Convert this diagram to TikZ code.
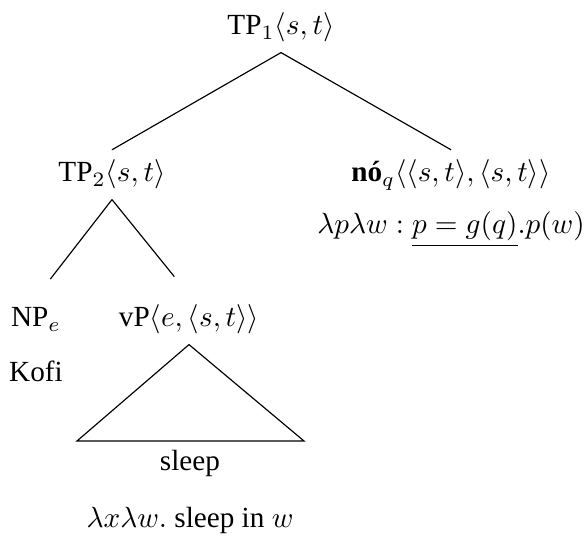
\documentclass[tikz,border=0pt]{standalone}
\usepackage{fontspec}
\setmainfont{Liberation Serif}
\usetikzlibrary{positioning}

\begin{document}
\begin{tikzpicture}[x=0.3424pt,y=-0.3424pt,
  lab/.style={anchor=base,inner sep=3.33pt}]

\useasboundingbox (0,0) rectangle (585,536);

%====================================================
% Top : TP1 and its daughters
%====================================================
\node[lab] (tpone) at (281,35) {$\mathrm{TP}_1\langle s,t\rangle$};
\node[lab] (tptwo) at (112,182) {$\mathrm{TP}_2\langle s,t\rangle$};
\node[lab] (no) at (451,182) {\textbf{nó}$_q\langle\langle s,t\rangle,\langle s,t\rangle\rangle$};
\node[lab] (noden) at (451,234) {$\lambda p\lambda w:\underline{p=g(q)}.p(w)$};

\draw (tpone.south) -- (tptwo.north);
\draw (tpone.south) -- (no.north);

%====================================================
% Middle : TP2 and its daughters
%====================================================
\node[lab] (np) at (36,327) {NP$_e$};
\node[lab] (vp) at (189,327) {vP$\langle e,\langle s,t\rangle\rangle$};
\node[lab] (kofi) at (36,382) {Kofi};

\draw[shorten >=8pt] (tptwo.south) -- (np.north);
\draw[shorten >=8pt] (tptwo.south) -- (vp.north);

%====================================================
% Bottom : vP triangle
%====================================================
\node[lab] (sleep) at (190,471) {sleep};
\node[lab] (vpden) at (190,528) {$\lambda x\lambda w.$ sleep in $w$};

\coordinate (triL) at (77,441);
\coordinate (triR) at (304,441);
\draw (vp.south) -- (triL) -- (triR) -- cycle;

\end{tikzpicture}
\end{document}
